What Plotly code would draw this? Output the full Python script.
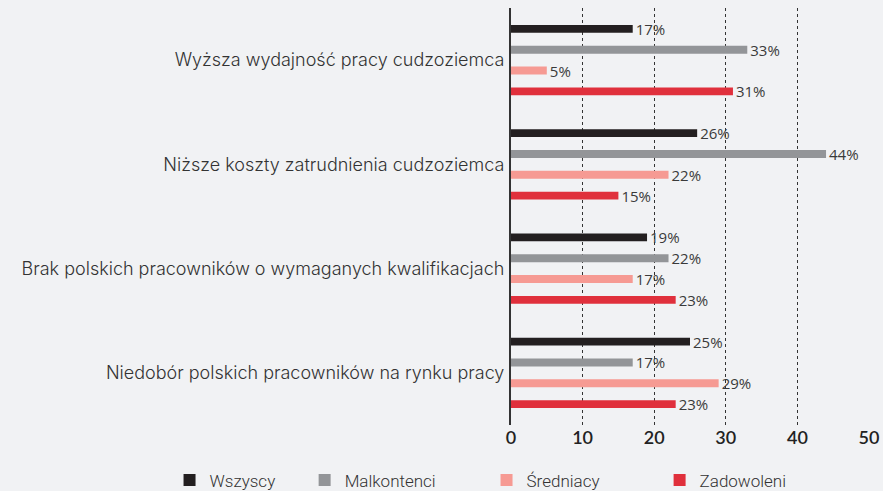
import plotly.graph_objects as go

categories = [
    "Wyższa wydajność pracy cudzoziemca",
    "Niższe koszty zatrudnienia cudzoziemca",
    "Brak polskich pracowników o wymaganych kwalifikacjach",
    "Niedobór polskich pracowników na rynku pracy",
]
series_names = ["Wszyscy", "Malkontenci", "Średniacy", "Zadowoleni"]
wszyscy = [17, 26, 19, 25]
malkontenci = [33, 44, 22, 17]
sredniacy = [5, 22, 17, 29]
zadowoleni = [31, 15, 23, 23]
x_ticks = [0, 10, 20, 30, 40, 50]

colors = ["#231f20", "#939598", "#f69a93", "#e0303c"]
values = [wszyscy, malkontenci, sredniacy, zadowoleni]
legend_ids = ["legend", "legend2", "legend3", "legend4"]
legend_x = [0.192, 0.345, 0.551, 0.747]

fig = go.Figure()
for name, vals, col, lid in zip(series_names, values, colors, legend_ids):
    fig.add_trace(go.Bar(
        y=categories, x=vals, name=name, orientation="h",
        marker=dict(color=col, line=dict(width=0)),
        text=[f"{v}%" for v in vals], textposition="outside",
        constraintext="none",
        textfont=dict(family="Open Sans", size=15, color="#3a3a3a", weight=400),
        cliponaxis=False, legend=lid, showlegend=True,
    ))

legend_common = dict(orientation="h", xref="container", xanchor="left",
                     y=-0.09, yref="paper", yanchor="top",
                     font=dict(family="Roboto", size=17, color="#333333", weight=300),
                     itemwidth=30, bgcolor="rgba(0,0,0,0)", visible=True)
legends = {lid: dict(legend_common, x=lx) for lid, lx in zip(legend_ids, legend_x)}

fig.update_layout(
    width=883, height=491,
    showlegend=True,
    paper_bgcolor="#f1f2f4", plot_bgcolor="#f1f2f4",
    margin=dict(l=511, r=14, t=8, b=66, autoexpand=False),
    barmode="group", bargap=0.2, bargroupgap=0.62,
    font=dict(family="Roboto", color="#333333"),
    xaxis=dict(range=[0, 50], tickvals=x_ticks, showgrid=True, griddash="dot",
               gridcolor="#333333", gridwidth=1, zeroline=False, showline=False,
               tickfont=dict(family="Lato", size=18, color="#222222", weight=600),
               ticks="", fixedrange=True, automargin=False),
    yaxis=dict(autorange="reversed", showline=True, linecolor="#333333", linewidth=2,
               ticks="", tickfont=dict(family="Inter", size=18, color="#333333", weight=300),
               ticklabelstandoff=1, showgrid=False, automargin=False, fixedrange=True),
    **legends,
)

fig.write_html("out.html", post_script="document.body.style.margin='0';",
               config={"displayModeBar": False})
